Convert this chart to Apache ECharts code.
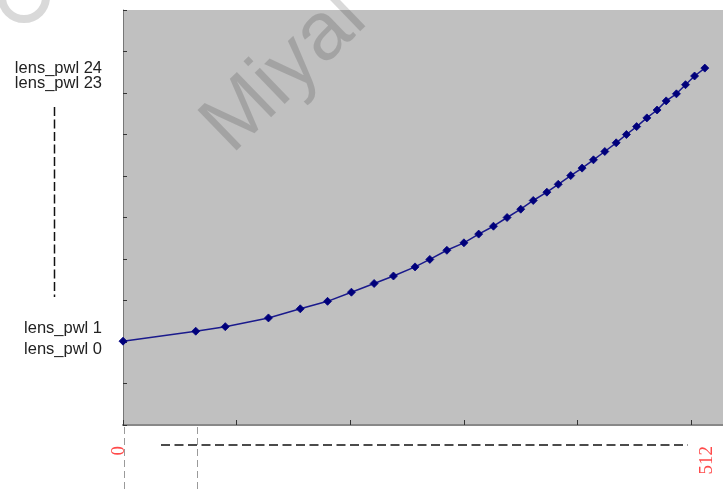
<!DOCTYPE html>
<html><head><meta charset="utf-8">
<script src="https://cdn.jsdelivr.net/npm/echarts@6/dist/echarts.min.js"></script>
<style>html,body{margin:0;padding:0;background:#fff}#c{width:723px;height:492px}</style>
</head><body><div id="c"></div><script>
// data
const xValues = [0, 64, 90, 128, 156, 180, 201, 221, 238, 257, 270, 285, 300, 313, 326, 338, 350, 361, 373, 383, 394, 404, 414, 424, 434, 443, 452, 461, 470, 478, 487, 495, 503, 512];
const yValues = [202, 226, 237, 258, 280, 298, 320, 341, 359, 381, 399, 421, 439, 460, 479, 500, 520, 541, 561, 580, 601, 619, 639, 659, 680, 700, 719, 740, 759, 781, 798, 820, 841, 860];
const topLabels = ['lens_pwl 24', 'lens_pwl 23'];
const bottomLabels = ['lens_pwl 1', 'lens_pwl 0'];
const xEndLabels = [0, 512];
const markX = [0, 64];
const watermark = 'Miyal';

const chart = echarts.init(document.getElementById('c'), null, {renderer: 'canvas'});
const points = xValues.map((x, i) => [x, yValues[i]]);
chart.setOption({
  animation: false,
  backgroundColor: '#ffffff',
  grid: {left: 123, right: 0, top: 10, bottom: 67, show: true, backgroundColor: '#c0c0c0', borderWidth: 0},
  xAxis: {
    type: 'value', min: 0, max: 528, interval: 100,
    axisLine: {show: true, lineStyle: {color: '#888', width: 2}},
    axisTick: {show: true, inside: true, length: 5, lineStyle: {color: '#333', width: 1}},
    axisLabel: {show: false}, splitLine: {show: false}
  },
  yAxis: {
    type: 'value', min: 0, max: 1000, interval: 100,
    axisLine: {show: true, lineStyle: {color: '#777', width: 1}},
    axisTick: {show: true, inside: true, length: 4, lineStyle: {color: '#333', width: 1}},
    axisLabel: {show: false}, splitLine: {show: false}
  },
  series: [{
    type: 'line', data: points, symbol: 'diamond', symbolSize: 8,
    lineStyle: {color: '#1a1a8c', width: 1.5},
    itemStyle: {color: '#00007a', borderColor: '#000080', borderWidth: 0.8}
  }]
});

const px = v => chart.convertToPixel({gridIndex: 0}, [v, 0])[0];
const g = [];
// left text labels
const lab = (txt, y) => ({type: 'text', x: 102, y: y, style: {text: txt, fill: '#222', font: '16.5px "Liberation Sans", Arial, sans-serif', textAlign: 'right', textVerticalAlign: 'middle'}});
g.push(lab(topLabels[0], 68.5), lab(topLabels[1], 83.5), lab(bottomLabels[0], 328.5), lab(bottomLabels[1], 349.5));
// vertical black dashed line on the left
g.push({type: 'line', shape: {x1: 54.5, y1: 107, x2: 54.5, y2: 297}, style: {stroke: '#111', lineWidth: 1.5, lineDash: [9, 3.5]}});
// horizontal black dashed line under the axis
g.push({type: 'line', shape: {x1: 161, y1: 445, x2: 688, y2: 445}, style: {stroke: '#111', lineWidth: 1.5, lineDash: [9, 4.5]}});
// gray dashed verticals below axis
markX.forEach(v => {
  const x = Math.round(px(v)) + 1.5;
  g.push({type: 'line', shape: {x1: x, y1: 427, x2: x, y2: 492}, style: {stroke: '#9a9a9a', lineWidth: 1, lineDash: [7, 4]}});
});
// red rotated end labels
const redX = [px(xEndLabels[0]) - 4, px(xEndLabels[1]) + 2];
xEndLabels.forEach((v, i) => {
  g.push({type: 'text', x: redX[i], y: 446, rotation: Math.PI / 2,
    style: {text: String(v), fill: '#ff4a4a', font: '19px "Liberation Serif", "Times New Roman", serif', textAlign: 'right', textVerticalAlign: 'middle'}});
});
// watermark
g.push({type: 'text', x: 216, y: 139, rotation: 44 * Math.PI / 180, z: 100,
  style: {text: watermark, fill: 'rgba(0,0,0,0.15)', font: '82px "Liberation Sans", Arial, sans-serif', textAlign: 'left', textVerticalAlign: 'middle'}});
g.push({type: 'arc', z: 100, shape: {cx: 24, cy: -3, r: 22, startAngle: 0, endAngle: Math.PI, clockwise: true}, style: {stroke: 'rgba(0,0,0,0.15)', lineWidth: 8, fill: 'none'}});
chart.setOption({graphic: g});
</script></body></html>
